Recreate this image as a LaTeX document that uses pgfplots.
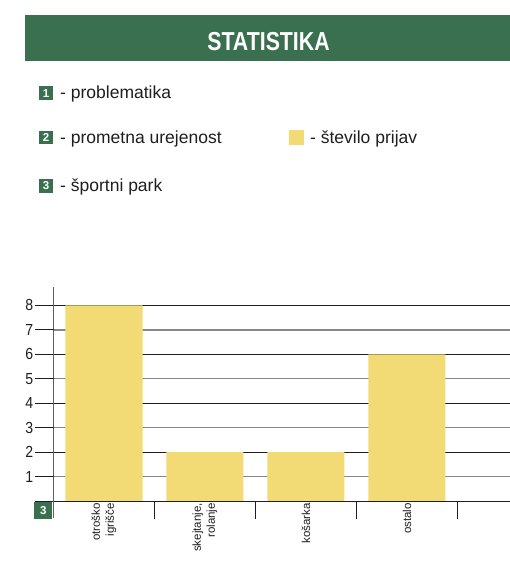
\documentclass[border=0pt]{standalone}
\usepackage{fontspec}
\usepackage{pgfplots}
\pgfplotsset{compat=1.18}
\setmainfont{Liberation Sans}
\newfontfamily\narrowfont{Liberation Sans}[FakeStretch=0.88]
\newfontfamily\titlefont{Liberation Sans}[FakeStretch=0.82]
\definecolor{titlegreen}{RGB}{58,112,80}
\definecolor{baryellow}{RGB}{242,218,117}
\definecolor{gridgray}{RGB}{135,135,135}
\definecolor{darkline}{RGB}{30,30,30}
\definecolor{axisgray}{RGB}{95,95,95}
\begin{document}
\begin{tikzpicture}[x=1pt,y=1pt]
\useasboundingbox (0,0) rectangle (510,564);
% title bar
\fill[titlegreen] (25,503) rectangle (510,549);
\node[text=white, inner sep=0, font=\titlefont\bfseries\fontsize{26}{26}\selectfont] at (268.5,522.5) {STATISTIKA};
% legend
\node[fill=titlegreen, minimum width=14pt, minimum height=13.5pt, inner sep=0, text=white, font=\bfseries\fontsize{11.5}{11.5}\selectfont] at (46,470.8) {1};
\node[fill=titlegreen, minimum width=14pt, minimum height=13.5pt, inner sep=0, text=white, font=\bfseries\fontsize{11.5}{11.5}\selectfont] at (46,426.7) {2};
\node[fill=titlegreen, minimum width=14pt, minimum height=13.5pt, inner sep=0, text=white, font=\bfseries\fontsize{11.5}{11.5}\selectfont] at (46,378) {3};
\node[anchor=base west, inner sep=0, text=darkline, font=\fontsize{17.5}{20}\selectfont] at (60,465.7) {- problematika};
\node[anchor=base west, inner sep=0, text=darkline, font=\fontsize{17.5}{20}\selectfont] at (60,420) {- prometna urejenost};
\node[anchor=base west, inner sep=0, text=darkline, font=\fontsize{17.5}{20}\selectfont] at (60,372.3) {- športni park};
\node[fill=baryellow, minimum width=15pt, minimum height=15pt, inner sep=0] at (296.5,426.5) {};
\node[anchor=base west, inner sep=0, text=darkline, font=\fontsize{17.5}{20}\selectfont] at (310,420) {- število prijav};
% chart
\begin{axis}[
  at={(53.5pt,63pt)}, anchor=south west,
  scale only axis, width=456.5pt, height=214pt,
  xmin=0.5, xmax=5.02, ymin=0, ymax=8.75,
  clip=false,
  axis x line*=bottom, axis y line*=left,
  x axis line style={draw=darkline, line width=0.9pt},
  y axis line style={draw=axisgray, line width=1.3pt},
  tick align=outside, major tick length=18pt,
  xtick={1.5,2.5,3.5,4.5}, xticklabels={,,,},
  xtick style={draw=darkline, line width=0.9pt},
  extra x ticks={1,2,3,4},
  extra x tick labels={{otroško\\igrišče},{skejtanje,\\rolanje},{košarka},{ostalo}},
  extra x tick style={major tick length=0pt,
    xticklabel style={rotate=90, anchor=east, align=right, inner sep=2pt,
      font=\fontsize{11.5}{14}\selectfont, text=darkline}},
  ytick={0,2,4,6,8}, yticklabels={,2,4,6,8},
  ytick style={draw=darkline, line width=0.9pt},
  ymajorgrids,
  major grid style={draw=darkline, line width=0.9pt},
  extra y ticks={1,3,5,7},
  extra y tick style={ymajorgrids=true,
    major tick style={draw=gridgray, line width=1.5pt},
    major grid style={draw=gridgray, line width=1.5pt}},
  /pgf/number format/assume math mode=true,
  yticklabel style={font=\narrowfont\fontsize{16}{16}\selectfont, text=darkline, inner sep=2pt},
]
\addplot[ybar, bar width=77pt, fill=baryellow, draw=none] coordinates {(1,8) (2,2) (3,2) (4,6)};
\draw[axisgray, line width=1.3pt] (axis cs:0.5,0) -- ([yshift=-17pt]axis cs:0.5,0);
\node[fill=titlegreen, minimum width=18pt, minimum height=17pt, inner sep=0, text=white, anchor=north east, font=\bfseries\fontsize{11.5}{11.5}\selectfont] at ([xshift=-1pt,yshift=-1pt]axis cs:0.5,0) {3};
\end{axis}
\end{tikzpicture}
\end{document}
